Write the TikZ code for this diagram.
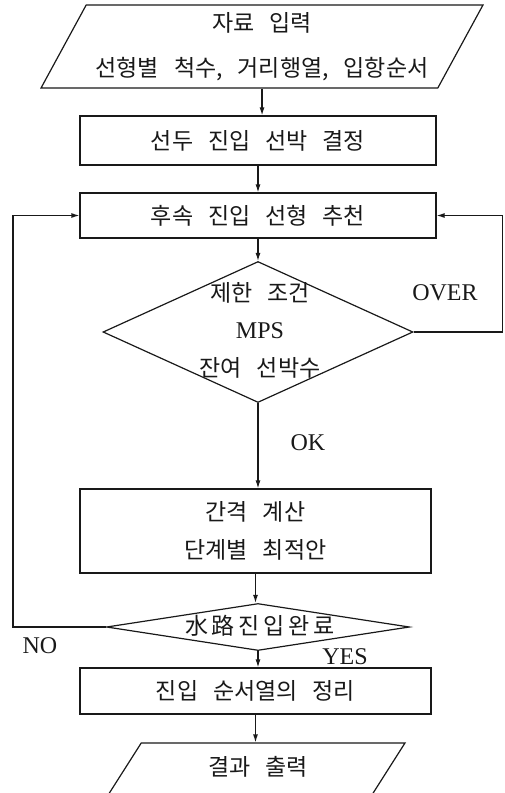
\documentclass[tikz,border=0pt]{standalone}
\usepackage{fontspec}
\setmainfont{Liberation Serif}
\newfontfamily\kr[WordSpace=2.9]{Noto Sans CJK KR}
\usetikzlibrary{shapes.geometric}
\usetikzlibrary{arrows.meta}
\definecolor{ink}{RGB}{25,25,25}

\begin{document}
\begin{tikzpicture}[x=1pt, y=-1pt, ink, line width=1.2pt,
    box/.style={draw, rectangle, inner sep=0pt, align=center, font=\kr\fontsize{23}{38}\selectfont},
    io/.style={draw, trapezium, trapezium stretches=true, inner sep=0pt, align=center, font=\kr\fontsize{23}{45}\selectfont},
    decision/.style={draw, diamond, inner sep=0pt},
    txt/.style={align=center, font=\kr\fontsize{23}{37.5}\selectfont},
    lbl/.style={font=\fontsize{24}{24}\selectfont},
    arr/.style={-{Latex[length=8pt,width=5pt]}}]

    \useasboundingbox (0,0) rectangle (504,793);
    \clip (0,0) rectangle (504,793);

    \node[io, trapezium left angle=58, trapezium right angle=122, minimum width=444pt, minimum height=83pt] (input) at (262,46.5) {자료 입력\\선형별 척수, 거리행열, 입항순서};
    \node[box, minimum width=356pt, minimum height=49pt] (lead) at (258,140.5) {선두 진입 선박 결정};
    \node[box, minimum width=356pt, minimum height=45pt] (cand) at (258,215.5) {후속 진입 선형 추천};

    \node[decision, minimum width=310pt, minimum height=141pt] (limit) at (258,332) {};
    \node[txt] (limittxt) at (260,330) {제한 조건\\{\rmfamily\fontsize{24}{24}\selectfont MPS}\\잔여 선박수};

    \node[box, minimum width=351pt, minimum height=84pt] (gap) at (255.5,531) {간격 계산\\단계별 최적안};
    \node[decision, minimum width=303pt, minimum height=47pt] (finish) at (258,627) {};
    \node[txt] (finishtxt) at (260,626) {水\,路\,진\,입\,완\,료};
    \node[box, minimum width=351pt, minimum height=46pt] (order) at (255.5,691) {진입 순서열의 정리};

    \node[io, trapezium left angle=49, trapezium right angle=131, minimum width=302pt, minimum height=60pt] (output) at (254,773) {\raisebox{6pt}[\height][\depth]{\hspace{8pt}결과 출력}};

    % labels
    \node[lbl] (over) at (445,293) {OVER};
    \node[lbl] (ok) at (308,443) {OK};
    \node[lbl] (no) at (40,646) {NO};
    \node[lbl] (yes) at (345,657) {YES};

    \foreach \a/\b in {input/lead, lead/cand, cand/limit, limit/gap, gap/finish, finish/order, order/output}{
        \draw[arr] (\a.south) -- (\a.south |- \b.north);
    }

    \draw[arr] (limit.east) -- ++(89,0) |- (cand.east);
    \draw[arr] (finish.west) -- ++(-93,0) |- (cand.west);

\end{tikzpicture}
\end{document}
